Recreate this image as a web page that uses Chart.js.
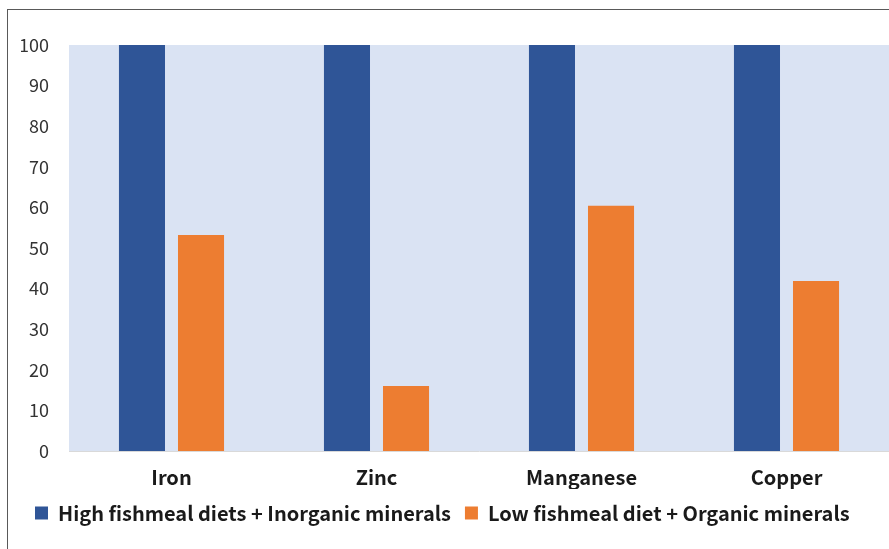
<!DOCTYPE html>
<html lang="en">
<head>
  <meta charset="UTF-8">
  <title>Mineral retention by diet</title>
  <script src="https://cdn.jsdelivr.net/npm/chart.js"></script>
  <style>
    body { margin: 0; overflow: hidden; background: #fff; width: 889px; height: 549px; }
    .frame { position: absolute; left: 7px; top: 9px; width: 900px; height: 600px; border: 1px solid #595959; }
    .wrap { position: absolute; left: 8px; top: 10px; width: 881px; height: 539px; }
  </style>
</head>
<body>
  <div class="frame"></div>
  <div class="wrap"><canvas id="chart"></canvas></div>
  <script>
    // Data
    const minerals = ['Iron', 'Zinc', 'Manganese', 'Copper'];
    const highFishmeal = [100, 100, 100, 100];
    const lowFishmeal = [53.2, 16.0, 60.4, 41.9];
    const yTicks = [0, 10, 20, 30, 40, 50, 60, 70, 80, 90, 100];

    const fontFamily = '"Noto Sans CJK JP", "Noto Sans", sans-serif';

    // Light blue plot background
    const plotBg = {
      id: 'plotBg',
      beforeDraw(chart) {
        const a = chart.chartArea;
        const ctx = chart.ctx;
        ctx.save();
        ctx.fillStyle = '#DAE3F3';
        ctx.fillRect(a.left, a.top, a.right - a.left, a.bottom - a.top);
        ctx.restore();
      }
    };

    new Chart(document.getElementById('chart'), {
      type: 'bar',
      data: {
        labels: minerals,
        datasets: [{
          label: 'High fishmeal diets + Inorganic minerals',
          data: highFishmeal,
          backgroundColor: '#2F5597',
          barPercentage: 0.78,
          categoryPercentage: 0.576
        }, {
          label: 'Low fishmeal diet + Organic minerals',
          data: lowFishmeal,
          backgroundColor: '#ED7D31',
          barPercentage: 0.78,
          categoryPercentage: 0.576
        }]
      },
      options: {
        responsive: true,
        maintainAspectRatio: false,
        animation: false,
        layout: { padding: { left: 13, right: 0, top: 35, bottom: 16 } },
        scales: {
          x: {
            grid: { display: false, drawTicks: false },
            border: { display: true, color: '#D9D9D9' },
            ticks: { color: '#1a1a1a', padding: 14, font: { family: fontFamily, size: 20, weight: 'bold' } },
            afterFit(scale) { scale.height = 38; }
          },
          y: {
            min: 0,
            max: 100,
            afterBuildTicks(scale) { scale.ticks = yTicks.map(v => ({ value: v })); },
            grid: { display: false, drawTicks: false },
            border: { display: false },
            ticks: { color: '#333', padding: 20, font: { family: fontFamily, size: 18 } },
            afterFit(scale) { scale.width = 48; }
          }
        },
        plugins: {
          legend: {
            position: 'bottom',
            align: 'start',
            labels: {
              boxWidth: 13,
              boxHeight: 13,
              padding: 14,
              color: '#1a1a1a',
              font: { family: fontFamily, size: 20, weight: 'bold' }
            }
          },
          tooltip: { enabled: false }
        }
      },
      plugins: [plotBg]
    });
  </script>
</body>
</html>
